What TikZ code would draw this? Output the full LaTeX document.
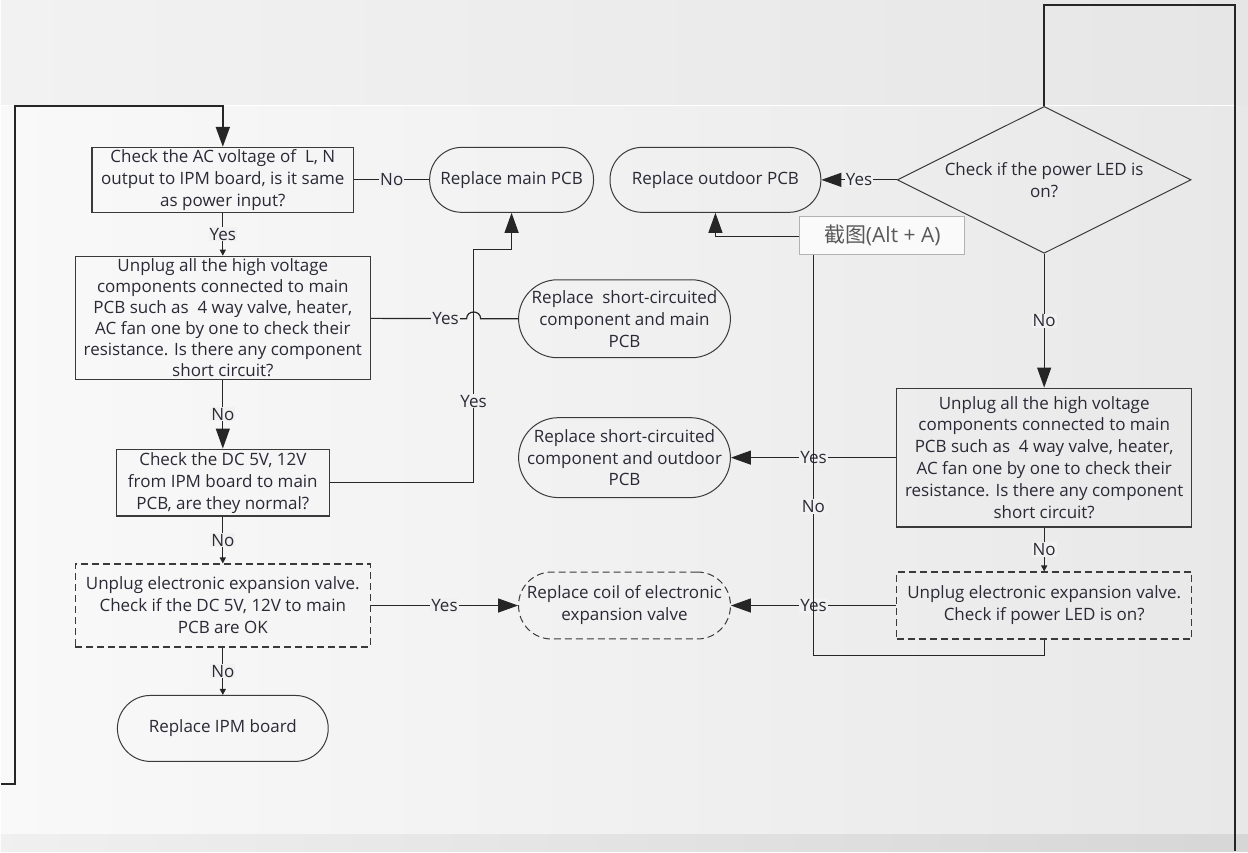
\documentclass[tikz,border=0pt]{standalone}
\usepackage{fontspec}
\setmainfont{Open Sans}
\newfontfamily\cjkfont{Noto Sans CJK SC}
\usetikzlibrary{arrows.meta,shapes.geometric}
\definecolor{txt}{HTML}{2A2A36}
\definecolor{boxline}{HTML}{3A3A3A}
\definecolor{bgleft}{HTML}{F9F9F9}
\definecolor{bgright}{HTML}{E8E8E8}
\definecolor{bgtopl}{HTML}{F2F2F2}
\definecolor{bgtopr}{HTML}{E6E6E6}
\definecolor{bglbl}{HTML}{F1F1F1}
\begin{document}
\begin{tikzpicture}[x=1pt,y=-1pt,
    every node/.style={font=\fontsize{17}{22}\selectfont, text=txt},
    proc/.style={draw=boxline, line width=1.2pt, inner sep=0pt, align=center},
    term/.style={draw=boxline, line width=1pt, inner sep=0pt, align=center},
    dashbox/.style={dash pattern=on 7pt off 4pt},
    lbl/.style={fill=bglbl, inner sep=1pt},
    line/.style={draw=black!85, line width=1.2pt},
    big/.style={-{Triangle[length=20pt,width=14pt]}},
    small/.style={-{Triangle[length=6pt,width=6pt]}}]
    \shade[left color=bgleft, right color=bgright] (0,0) rectangle (1248,852);
    \shade[left color=bgtopl, right color=bgtopr] (0,0) rectangle (1248,106);
    \shade[left color=gray!12, right color=gray!32] (0,835) rectangle (1248,852);
    \draw[white, line width=1pt] (0,106) -- (1235,106);

    \node[proc, minimum width=262pt, minimum height=65pt] (ac) at (222,180) {Check the AC voltage of\ \ L, N\\output to IPM board, is it same\\as power input?};
    \node[proc, minimum width=295pt, minimum height=123pt, font=\fontsize{17}{21}\selectfont] (hv) at (222,318) {Unplug all the high voltage\\components connected to main\\PCB such as\ \ 4 way valve, heater,\\AC fan one by one to check their\\resistance. Is there any component\\short circuit?};
    \node[proc, minimum width=213pt, minimum height=67pt] (dc) at (222,483) {Check the DC 5V, 12V\\from IPM board to main\\PCB, are they normal?};
    \node[proc, dashbox, minimum width=295pt, minimum height=83pt] (eev) at (222,606) {Unplug electronic expansion valve.\\Check if the DC 5V, 12V to main\\PCB are OK};
    \node[term, rounded corners=33pt, minimum width=211pt, minimum height=66pt] (ipm) at (222,729) {Replace IPM board};

    \node[term, rounded corners=32pt, minimum width=164pt, minimum height=65pt] (mainpcb) at (511,180) {Replace main PCB};
    \node[term, rounded corners=39pt, minimum width=212pt, minimum height=78pt] (shortmain) at (624,319) {Replace\ \ short-circuited\\component and main\\PCB};
    \node[term, rounded corners=40pt, minimum width=212pt, minimum height=80pt] (shortout) at (624,458) {Replace short-circuited\\component and outdoor\\PCB};
    \node[term, dashbox, rounded corners=33pt, minimum width=212pt, minimum height=67pt] (coil) at (624,606) {Replace coil of electronic\\expansion valve};
    \node[term, rounded corners=32pt, minimum width=211pt, minimum height=65pt] (outpcb) at (715,180) {Replace outdoor PCB};

    \node[term, diamond, aspect=2, minimum width=294pt, minimum height=147pt] (led) at (1044,180) {Check if the power LED is\\on?};
    \node[proc, minimum width=295pt, minimum height=139pt] (hvr) at (1044,458) {Unplug all the high voltage\\components connected to main\\PCB such as\ \ 4 way valve, heater,\\AC fan one by one to check their\\resistance. Is there any component\\short circuit?};
    \node[proc, dashbox, minimum width=295pt, minimum height=67pt] (eevr) at (1044,606) {Unplug electronic expansion valve.\\Check if power LED is on?};

    \coordinate (inl) at (0,785);
    \coordinate (outr) at (1235,852);
    \draw[line, big, line width=2pt] (inl) -- (14,785) -- (14,106) -- (222,106) -- (ac);
    \draw[line, line width=2pt] (led) -- (1044,5) -- (1235,5) -- (outr);

    \draw[line] (ac) -- node[lbl] {No} (mainpcb);
    \draw[line, small] (ac) -- node[lbl] {Yes} (hv);
    \draw[line] (hv) -- node[lbl, pos=0.78] {Yes} (466,319) .. controls (466,310) and (480,310) .. (480,319) -- (shortmain);
    \draw[line, big] (hv) -- node[lbl] {No} (dc);
    \draw[line, big] (dc) -- (473,483) -- node[lbl, pos=0.35] {Yes} (473,250) -- (511,250) -- (mainpcb);
    \draw[line, small] (dc) -- node[lbl] {No} (eev);
    \draw[line, big] (eev) -- node[lbl] {Yes} (coil);
    \draw[line, small] (eev) -- node[lbl] {No} (ipm);

    \draw[line, big] (led) -- node[lbl] {Yes} (outpcb);
    \draw[line, big] (led) -- node[lbl] {No} (hvr);
    \draw[line, big] (hvr) -- node[lbl] {Yes} (shortout);
    \draw[line, small] (hvr) -- node[lbl] {No} (eevr);
    \draw[line, big] (eevr) -- node[lbl] {Yes} (coil);
    \draw[line, big] (eevr) -- (1044,656) -- (813,656) -- node[lbl, pos=0.356] {No} (813,237) -- (715,237) -- (outpcb);

    \node[draw=gray!60, fill=gray!4, line width=1pt, minimum width=165pt, minimum height=38pt, inner sep=0pt, font=\fontsize{21}{24}\selectfont, text=black!65] (tip) at (882,236) {{\cjkfont 截图}(Alt + A)};
\end{tikzpicture}
\end{document}
